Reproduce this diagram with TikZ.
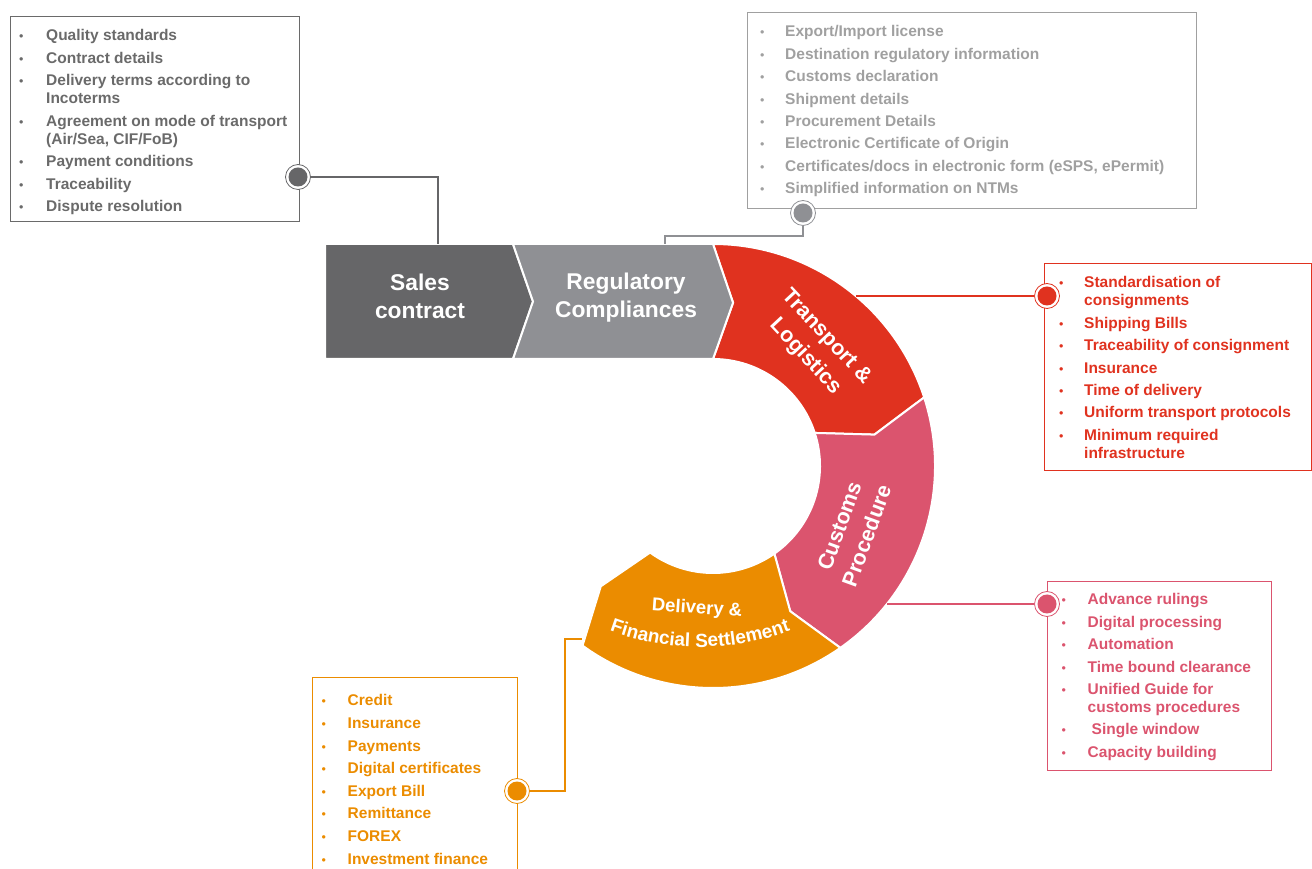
\documentclass[tikz,border=0pt]{standalone}
\usepackage{fontspec}
\setmainfont{Liberation Sans}
\usetikzlibrary{decorations.text}
\definecolor{cSales}{HTML}{666668}
\definecolor{cReg}{HTML}{8F9094}
\definecolor{cTrans}{HTML}{E0321F}
\definecolor{cCust}{HTML}{DB546E}
\definecolor{cDel}{HTML}{EB8C00}
\definecolor{tSales}{HTML}{6A6A6A}
\definecolor{tReg}{HTML}{A0A0A0}
\newcommand{\bl}{{\mdseries\fontsize{12.5}{12.5}\selectfont\textbullet}}
\begin{document}
\begin{tikzpicture}[x=1pt,y=1pt,
  seg/.style={fill=#1, draw=white, line width=2pt, line join=miter},
  lbl/.style={text=white, font=\bfseries\fontsize{22.8}{28}\selectfont, align=center, inner sep=0pt},
  rlbl/.style={text=white, font=\bfseries\fontsize{21.5}{29}\selectfont, align=center, inner sep=0pt},
  listbox/.style={draw=#1, line width=1pt},
  listtext/.style={anchor=base west, inner sep=0pt, text=#1, font=\bfseries\fontsize{15.5}{18}\selectfont},
  dotc/.style={circle, minimum size=25pt, inner sep=0pt, draw=#1, line width=0.8pt, fill=white,
    path picture={\fill[#1] (path picture bounding box.center) circle[radius=9.5pt];}},
  conn/.style={draw=#1, line width=1.6pt},
]
\useasboundingbox (0,0) rectangle (1312,868);

% ---------- ring ----------
\begin{scope}[shift={(713,402)}]
  \coordinate (TN) at (83:164.5);
  \path[seg=cTrans] (90:222) arc[start angle=90, end angle=18, radius=222] -- (11:164.5)
     -- (18:107) arc[start angle=18, end angle=90, radius=107] -- (TN) -- cycle;
  \path[seg=cCust] (18:222) arc[start angle=18, end angle=-55, radius=222] -- (-62:164.5)
     -- (-55:107) arc[start angle=-55, end angle=18, radius=107] -- (11:164.5) -- cycle;
  \path[seg=cDel] (-55:222) arc[start angle=-55, end angle=-126, radius=222] -- (-133:164.5)
     -- (-126:107) arc[start angle=-126, end angle=-55, radius=107] -- (-62:164.5) -- cycle;
\end{scope}

% ---------- chevrons ----------
\path[seg=cSales] (325,624) -- (513,624) -- (533,566.5) -- (513,509) -- (325,509) -- cycle;
\path[seg=cReg] (513,624) -- (713,624) -- (TN) -- (713,509) -- (513,509) -- (533,566.5) -- cycle;

\node[lbl] (sales) at (420,572) {Sales\\contract};
\node[lbl] (reg) at (626,570) {Regulatory\\Compliances};
\node[rlbl, rotate=-47] (trans) at (816,521) {Transport \&\\Logistics};
\node[rlbl, rotate=70] (cust) at (853,337) {Customs\\Procedure};
\node[text=white, font=\bfseries\fontsize{18.5}{20}\selectfont, inner sep=0pt, rotate=-4] (del) at (697,259) {Delivery \&};
\path[decorate, decoration={text along path, text={|\bfseries\fontsize{19}{20}\selectfont|Financial Settlement}, text align=center, text color=white}]
  (700,481) ++(-115:260) arc[start angle=-115, end angle=-65, radius=260];

% ---------- box 1: sales contract ----------
\draw[listbox=tSales] (10,851) rectangle (299,646);
\node[listtext=tSales] (l1) at (19,827) {\begin{tabular}[t]{@{}p{27pt}@{}l@{}}
\bl & Quality standards\\[4.5pt]
\bl & Contract details\\[4.5pt]
\bl & Delivery terms according to\\
    & Incoterms\\[4.5pt]
\bl & Agreement on mode of transport\\
    & (Air/Sea, CIF/FoB)\\[4.5pt]
\bl & Payment conditions\\[4.5pt]
\bl & Traceability\\[4.5pt]
\bl & Dispute resolution
\end{tabular}};
\node[dotc=cSales] (d1) at (298,691) {};
\coordinate (salesTop) at (438,624);
\draw[conn=cSales] (d1.east) -- (438,691) -- (salesTop);

% ---------- box 2: regulatory ----------
\draw[listbox=tReg] (747,855) rectangle (1196,659);
\node[listtext=tReg] (l2) at (760,831) {\begin{tabular}[t]{@{}p{25pt}@{}l@{}}
\bl & Export/Import license\\[4.4pt]
\bl & Destination regulatory information\\[4.4pt]
\bl & Customs declaration\\[4.4pt]
\bl & Shipment details\\[4.4pt]
\bl & Procurement Details\\[4.4pt]
\bl & Electronic Certificate of Origin\\[4.4pt]
\bl & Certificates/docs in electronic form (eSPS, ePermit)\\[4.4pt]
\bl & Simplified information on NTMs
\end{tabular}};
\node[dotc=cReg] (d2) at (803,655) {};
\coordinate (regTop) at (665,624);
\draw[conn=cReg] (d2.south) -- (803,632) -- (665,632) -- (regTop);

% ---------- box 3: transport ----------
\draw[listbox=cTrans] (1044,604) rectangle (1311,397);
\node[listtext=cTrans] (l3) at (1059,580) {\begin{tabular}[t]{@{}p{25pt}@{}l@{}}
\bl & Standardisation of\\
    & consignments\\[4.4pt]
\bl & Shipping Bills\\[4.4pt]
\bl & Traceability of consignment\\[4.4pt]
\bl & Insurance\\[4.4pt]
\bl & Time of delivery\\[4.4pt]
\bl & Uniform transport protocols\\[4.4pt]
\bl & Minimum required\\
    & infrastructure
\end{tabular}};
\node[dotc=cTrans] (d3) at (1047,572) {};
\coordinate (transEdge) at (855.8,572);
\draw[conn=cTrans] (transEdge) -- (d3.west);

% ---------- box 4: customs ----------
\draw[listbox=cCust] (1047,286) rectangle (1271,98);
\node[listtext=cCust] (l4) at (1061.5,263) {\begin{tabular}[t]{@{}p{26pt}@{}l@{}}
\bl & Advance rulings\\[4.4pt]
\bl & Digital processing\\[4.4pt]
\bl & Automation\\[4.4pt]
\bl & Time bound clearance\\[4.4pt]
\bl & Unified Guide for\\
    & customs procedures\\[4.4pt]
\bl & \hspace{4pt}Single window\\[4.4pt]
\bl & Capacity building
\end{tabular}};
\node[dotc=cCust] (d4) at (1047,264) {};
\coordinate (custEdge) at (886.9,264);
\draw[conn=cCust] (custEdge) -- (d4.west);

% ---------- box 5: delivery ----------
\draw[listbox=cDel] (312,190) -- (517,190) -- (517,-10) (312,190) -- (312,-10);
\node[listtext=cDel] (l5) at (321.5,162) {\begin{tabular}[t]{@{}p{26pt}@{}l@{}}
\bl & Credit\\[4.6pt]
\bl & Insurance\\[4.6pt]
\bl & Payments\\[4.6pt]
\bl & Digital certificates\\[4.6pt]
\bl & Export Bill\\[4.6pt]
\bl & Remittance\\[4.6pt]
\bl & FOREX\\[4.6pt]
\bl & Investment finance
\end{tabular}};
\node[dotc=cDel] (d5) at (517,77) {};
\coordinate (delEdge) at (581.5,229);
\draw[conn=cDel] (d5.east) -- (565,77) -- (565,229) -- (delEdge);
\end{tikzpicture}
\end{document}
